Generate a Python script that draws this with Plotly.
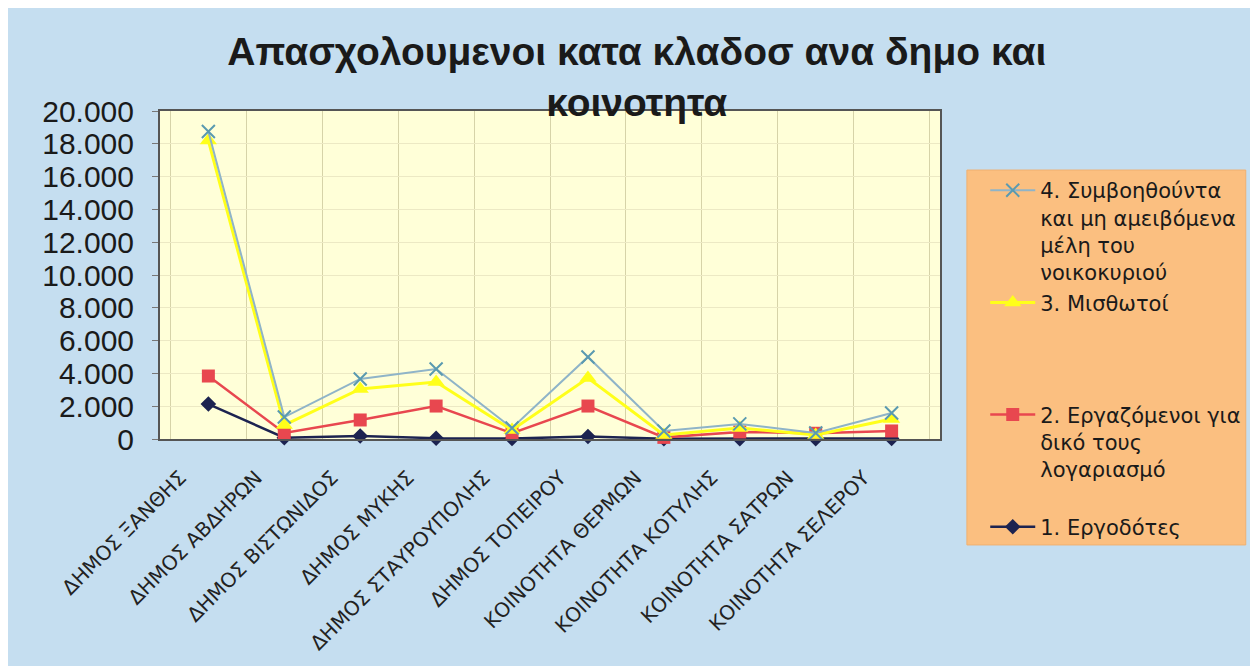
import plotly.graph_objects as go

# categories (municipalities / communities)
places = ["ΔΗΜΟΣ ΞΑΝΘΗΣ", "ΔΗΜΟΣ ΑΒΔΗΡΩΝ", "ΔΗΜΟΣ ΒΙΣΤΩΝΙΔΟΣ", "ΔΗΜΟΣ ΜΥΚΗΣ",
          "ΔΗΜΟΣ ΣΤΑΥΡΟΥΠΟΛΗΣ", "ΔΗΜΟΣ ΤΟΠΕΙΡΟΥ", "ΚΟΙΝΟΤΗΤΑ ΘΕΡΜΩΝ",
          "ΚΟΙΝΟΤΗΤΑ ΚΟΤΥΛΗΣ", "ΚΟΙΝΟΤΗΤΑ ΣΑΤΡΩΝ", "ΚΟΙΝΟΤΗΤΑ ΣΕΛΕΡΟΥ"]

# values
ergodotes = [2130, 80, 180, 50, 30, 150, 20, 20, 20, 30]
idio_logariasmo = [3840, 370, 1160, 2010, 350, 2010, 100, 430, 350, 490]
misthotoi = [18200, 850, 3050, 3480, 550, 3720, 250, 670, 250, 1220]
symvoithounta = [18750, 1340, 3660, 4270, 670, 5000, 490, 920, 370, 1590]

ytick_vals = [0, 2000, 4000, 6000, 8000, 10000, 12000, 14000, 16000, 18000, 20000]

fig = go.Figure()

fig.add_trace(go.Scatter(
    x=places, y=ergodotes, mode="lines+markers", cliponaxis=False,
    name="1. Εργοδότες",
    line=dict(color="#1c2350", width=2.5),
    marker=dict(symbol="diamond", size=12, color="#1c2350"),
    legendgroup="g1"))
fig.add_trace(go.Scatter(
    x=places, y=idio_logariasmo, mode="lines+markers", cliponaxis=False,
    name="2. Εργαζόμενοι για<br>δικό τους<br>λογαριασμό<br> ",
    line=dict(color="#e8474f", width=2.5),
    marker=dict(symbol="square", size=13, color="#e8474f"),
    legendgroup="g2"))
fig.add_trace(go.Scatter(
    x=places, y=misthotoi, mode="lines+markers", cliponaxis=False,
    name="3. Μισθωτοί<br> <br> <br> ",
    line=dict(color="#ffff1a", width=3),
    marker=dict(symbol="triangle-up", size=15, color="#ffff1a"),
    legendgroup="g3"))
fig.add_trace(go.Scatter(
    x=places, y=symvoithounta, mode="lines+markers", cliponaxis=False,
    name="4. Συμβοηθούντα<br>και μη αμειβόμενα<br>μέλη του<br>νοικοκυριού",
    line=dict(color="#8fb4c8", width=2),
    marker=dict(symbol="x-thin", size=13, color="#5a9ab0",
                line=dict(color="#5a9ab0", width=2)),
    legendgroup="g4"))

# orange legend box
fig.add_shape(type="rect", xref="paper", yref="paper",
              x0=1.0345, x1=1.392, y0=-0.323, y1=0.82,
              fillcolor="#fbbf80", line=dict(color="#f0b070", width=1),
              layer="below")

# the page adds an 8px body margin, so the figure is 8px smaller
fig.update_layout(
    width=1250, height=658,
    separators=",.",
    paper_bgcolor="#c5def0",
    plot_bgcolor="#ffffd8",
    margin=dict(l=152, r=315, t=103, b=227),
    font=dict(family="Liberation Sans, Arial, sans-serif", color="#1a1a1a"),
    title=dict(
        text="<b>Απασχολουμενοι κατα κλαδοσ ανα δημο και<br>κοινοτητα</b>",
        x=0.503, xanchor="center", xref="container",
        y=0.913, yanchor="top", yref="container",
        font=dict(size=39, color="#1a1a1a")),
    showlegend=True,
    legend=dict(
        x=1.058, xanchor="left", y=0.82, yanchor="top",
        bgcolor="rgba(0,0,0,0)", traceorder="reversed",
        valign="top", tracegroupgap=0, maxheight=460, itemwidth=45,
        font=dict(family="DejaVu Sans, sans-serif", size=21, color="#1a1a1a")),
)

fig.update_xaxes(
    type="category", tickangle=-45, tickson="boundaries",
    showgrid=True, gridcolor="#d6d3a8", gridwidth=1,
    showline=True, linecolor="#555555", linewidth=2, mirror=True,
    ticks="", ticklabelshift=-28, ticklabelstandoff=17,
    tickfont=dict(family="DejaVu Sans, sans-serif", size=20, color="#222222"))

fig.update_yaxes(
    range=[0, 20000], tickvals=ytick_vals, tickformat=",d",
    showgrid=True, gridcolor="#ece9c4", gridwidth=1,
    showline=True, linecolor="#555555", linewidth=2, mirror=True,
    ticks="outside", ticklen=6, tickcolor="#777777",
    ticklabelstandoff=12,
    zeroline=False,
    tickfont=dict(size=30, color="#1a1a1a"))

fig.write_html("out.html")
